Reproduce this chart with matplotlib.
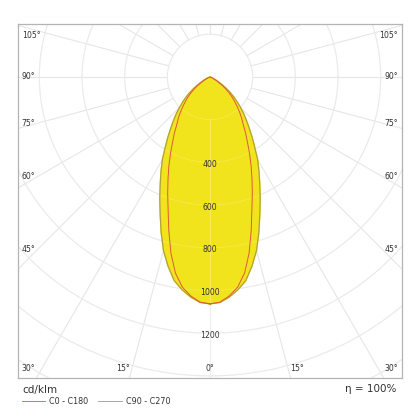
import numpy as np
import matplotlib.pyplot as plt
from matplotlib.lines import Line2D

# luminous intensity (cd/klm) every 2.5 deg from nadir, curves are symmetric
gamma = [0, 2.5, 5, 7.5, 10, 12.5, 15, 17.5, 20, 22.5, 25, 27.5, 30, 32.5, 35,
         37.5, 40, 42.5, 45, 47.5, 50, 52.5, 55, 57.5, 60, 62.5, 65, 67.5, 70,
         72.5, 75, 80, 90]
c0_c180 = [1063, 1056, 1030, 993, 933, 846, 746, 653, 580, 514, 455, 400, 350, 310, 271,
           244, 216, 189, 164, 142, 119, 95, 72, 50, 33, 20, 11, 5, 2,
           0, 0, 0, 0]
c90_c270 = [1063, 1057, 1035, 1005, 968, 908, 842, 762, 683, 615, 552, 497, 446, 390, 344,
            302, 266, 234, 202, 173, 146, 119, 91, 65, 45, 30, 18, 9, 4,
            1, 0, 0, 0]

ring_values = [200, 400, 600, 800, 1000, 1200, 1400, 1600, 1800]
ring_labels = [400, 600, 800, 1000, 1200]
side_angles = [45, 60, 75, 90, 105]
bottom_angles = [15, 0]
corner_angle = 30

XMAX = 900
YTOP = 248
YBOT = -1410

grid_col = '#e6e6e6'
text_col = '#333333'


def to_xy(angles, values):
    a = np.radians(np.asarray(angles, dtype=float))
    v = np.asarray(values, dtype=float)
    return v * np.sin(a), -v * np.cos(a)


def full_curve(values):
    # mirror the half curve to get both sides
    ang = list(gamma) + [-g for g in reversed(gamma)]
    val = list(values) + list(reversed(values))
    return to_xy(ang, val)


fig = plt.figure(figsize=(4.2, 4.2), dpi=100)
ax = fig.add_axes([18 / 420, 42 / 420, 384 / 420, 354 / 420])
ax.set_xlim(-XMAX, XMAX)
ax.set_ylim(YBOT, YTOP)
ax.set_xticks([])
ax.set_yticks([])
for s in ax.spines.values():
    s.set_color('#b4b4b4')
    s.set_linewidth(0.9)

# polar grid
t = np.linspace(0, 2 * np.pi, 400)
for r in ring_values:
    ax.plot(r * np.cos(t), r * np.sin(t), color=grid_col, lw=0.8, zorder=1)
for a in range(0, 360, 15):
    ar = np.radians(a)
    ax.plot([200 * np.sin(ar), 3000 * np.sin(ar)],
            [-200 * np.cos(ar), -3000 * np.cos(ar)],
            color=grid_col, lw=0.8, zorder=1)

# curves
x90, y90 = full_curve(c90_c270)
x0, y0 = full_curve(c0_c180)
ax.fill(x90, y90, color='#f2e41c', zorder=2)
ax.plot(x90, y90, color='#b0a040', lw=0.9, zorder=3)
ax.plot(x0, y0, color='#e0583a', lw=0.7, zorder=3)

# faint grid showing through the fill
for r in ring_values:
    ax.plot(r * np.cos(t), r * np.sin(t), color='#ffffff', lw=0.5, alpha=0.25, zorder=2.5)
ax.plot([0, 0], [-200, YBOT], color='#ffffff', lw=0.6, alpha=0.35, zorder=2.5)

# ring labels
for v in ring_labels:
    ax.text(0, -v - 10, str(v), ha='center', va='center', fontsize=5.6,
            color=text_col, zorder=4)

# angle labels on the sides, where each radial line meets the frame
inset = 20 / 0.2135
for a in side_angles:
    if a == 90:
        y = 0.0
    else:
        y = -(XMAX - inset) / np.tan(np.radians(a))
    y = min(y, YTOP - 55)
    ax.text(-XMAX + 18, y, f'{a}°', ha='left', va='center', fontsize=5.6, color=text_col)
    ax.text(XMAX - 18, y, f'{a}°', ha='right', va='center', fontsize=5.6, color=text_col)

ybl = YBOT + 45
for a in bottom_angles:
    dx = (-ybl) * np.tan(np.radians(a))
    off = 40 if a else 0
    ax.text(-dx - off, ybl, f'{a}°', ha='center', va='center', fontsize=5.6, color=text_col)
    if a:
        ax.text(dx + off, ybl, f'{a}°', ha='center', va='center', fontsize=5.6, color=text_col)
ax.text(-XMAX + 18, ybl, f'{corner_angle}°', ha='left', va='center', fontsize=5.6, color=text_col)
ax.text(XMAX - 18, ybl, f'{corner_angle}°', ha='right', va='center', fontsize=5.6, color=text_col)

# footer
fig.text(22 / 420, 1 - 390 / 420, 'cd/klm', ha='left', va='center', fontsize=7.5, color=text_col)
fig.text(396 / 420, 1 - 389 / 420, 'η = 100%', ha='right', va='center', fontsize=7.5, color=text_col)
ly = 1 - 401 / 420
fig.add_artist(Line2D([22 / 420, 45 / 420], [ly, ly], color='#e0583a', lw=0.6))
fig.text(49 / 420, ly, 'C0 - C180', ha='left', va='center', fontsize=5.8, color=text_col)
fig.add_artist(Line2D([98 / 420, 122 / 420], [ly, ly], color='#999999', lw=0.6))
fig.text(126 / 420, ly, 'C90 - C270', ha='left', va='center', fontsize=5.8, color=text_col)

fig.savefig('out.png', dpi=100)
